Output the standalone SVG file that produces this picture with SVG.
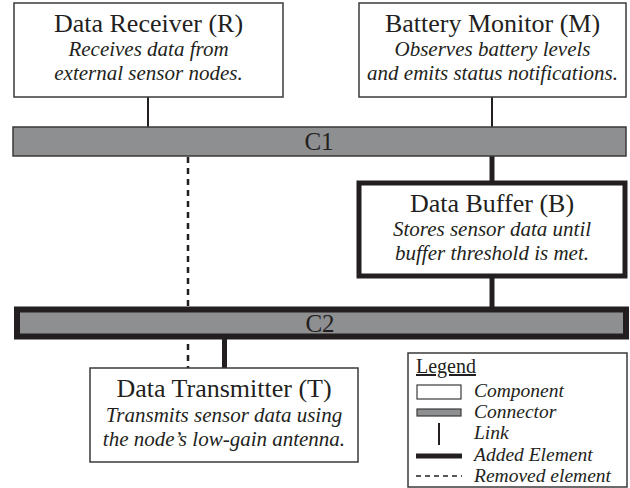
<svg xmlns="http://www.w3.org/2000/svg" width="630" height="488" viewBox="0 0 630 488">
<style>
.comp{fill:#fff;stroke:#3a3a3a;stroke-width:1.5}
.added{fill:#fff;stroke:#231f20;stroke-width:5}
.conn{fill:#8e8f91;stroke:#3a3a3a;stroke-width:1.5}
.connAdded{fill:#8e8f91;stroke:#231f20;stroke-width:6}
.link{stroke:#231f20;stroke-width:2;fill:none}
.linkAdded{stroke:#231f20;stroke-width:5;fill:none}
.removed{stroke:#231f20;stroke-width:2.5;stroke-dasharray:6 5;fill:none}
.title{font-family:"Liberation Serif","Times New Roman",serif;font-size:26px;fill:#231f20;text-anchor:middle}
.desc{font-family:"Liberation Serif","Times New Roman",serif;font-size:21px;font-style:italic;fill:#231f20;text-anchor:middle}
.clabel{font-family:"Liberation Serif","Times New Roman",serif;font-size:25px;fill:#231f20;text-anchor:middle}
.leg{font-family:"Liberation Serif","Times New Roman",serif;font-size:19.5px;font-style:italic;fill:#231f20}
.legT{font-family:"Liberation Serif","Times New Roman",serif;font-size:20px;fill:#231f20;text-decoration:underline}
</style>
<g id="connectors">
<line class="link" x1="148" y1="97" x2="148" y2="127"/>
<line class="link" x1="492" y1="97" x2="492" y2="127"/>
<line class="removed" x1="188" y1="157" x2="188" y2="368"/>
<line class="linkAdded" x1="492" y1="156" x2="492" y2="183"/>
<line class="linkAdded" x1="492" y1="276" x2="492" y2="309"/>
<line class="linkAdded" x1="224.5" y1="337" x2="224.5" y2="368"/>
</g>
<g id="C1">
<rect class="conn" x="13" y="127" width="613" height="29"/>
<text class="clabel" x="319" y="150">C1</text>
</g>
<g id="C2">
<rect class="connAdded" x="17" y="309.5" width="609" height="27"/>
<text class="clabel" x="320" y="332">C2</text>
</g>
<g id="R">
<rect class="comp" x="14" y="3" width="269" height="94"/>
<text class="title" x="148.5" y="32">Data Receiver (R)</text>
<text class="desc" x="148.5" y="56">Receives data from</text>
<text class="desc" x="148.5" y="80">external sensor nodes.</text>
</g>
<g id="M">
<rect class="comp" x="359" y="3" width="267" height="94"/>
<text class="title" x="492.5" y="32">Battery Monitor (M)</text>
<text class="desc" x="492.5" y="56">Observes battery levels</text>
<text class="desc" x="492.5" y="80">and emits status notifications.</text>
</g>
<g id="B">
<rect class="added" x="359" y="183" width="266" height="93"/>
<text class="title" x="492" y="212">Data Buffer (B)</text>
<text class="desc" x="492" y="236">Stores sensor data until</text>
<text class="desc" x="492" y="260">buffer threshold is met.</text>
</g>
<g id="T">
<rect class="comp" x="90" y="368" width="268" height="94"/>
<text class="title" x="224" y="397">Data Transmitter (T)</text>
<text class="desc" x="224" y="422">Transmits sensor data using</text>
<text class="desc" x="224" y="446">the node’s low-gain antenna.</text>
</g>
<g id="legend">
<rect class="comp" x="408" y="353" width="219" height="134"/>
<text class="legT" x="416" y="373">Legend</text>
<rect x="417" y="385" width="44" height="14" fill="#fff" stroke="#3a3a3a" stroke-width="1.2"/>
<rect x="417" y="409" width="44" height="7" fill="#8e8f91" stroke="#3a3a3a" stroke-width="1.2"/>
<line x1="439" y1="423" x2="439" y2="445" stroke="#231f20" stroke-width="2"/>
<line x1="416" y1="456" x2="462" y2="456" stroke="#231f20" stroke-width="5"/>
<line x1="416" y1="476" x2="462" y2="476" stroke="#231f20" stroke-width="1.5" stroke-dasharray="5 4"/>
<text class="leg" x="474" y="397">Component</text>
<text class="leg" x="474" y="418">Connector</text>
<text class="leg" x="474" y="439">Link</text>
<text class="leg" x="474" y="461">Added Element</text>
<text class="leg" x="474" y="482">Removed element</text>
</g>
</svg>
